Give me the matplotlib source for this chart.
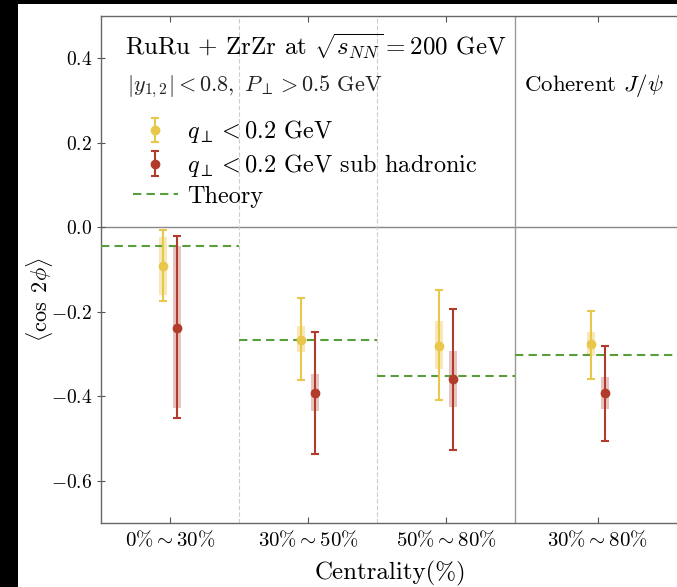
import matplotlib
matplotlib.use('Agg')
import matplotlib.pyplot as plt
from matplotlib.patches import Rectangle

plt.rcParams['font.family'] = 'serif'
plt.rcParams['font.serif'] = ['cmr10']
plt.rcParams['mathtext.fontset'] = 'cm'
plt.rcParams['axes.formatter.use_mathtext'] = True

# data
categories = [r'$0\%\sim30\%$', r'$30\%\sim50\%$', r'$50\%\sim80\%$', r'$30\%\sim80\%$']
cat_pos = [0, 1, 2, 3.1]

# q_perp < 0.2 GeV
y1 = [-0.091, -0.266, -0.280, -0.277]
y1_stat_hi = [-0.007, -0.168, -0.149, -0.198]
y1_stat_lo = [-0.175, -0.361, -0.409, -0.358]
y1_sys_hi = [-0.022, -0.234, -0.223, -0.248]
y1_sys_lo = [-0.160, -0.296, -0.335, -0.304]

# q_perp < 0.2 GeV sub hadronic
y2 = [-0.238, -0.393, -0.360, -0.393]
y2_stat_hi = [-0.020, -0.248, -0.193, -0.280]
y2_stat_lo = [-0.452, -0.536, -0.527, -0.505]
y2_sys_hi = [-0.044, -0.347, -0.294, -0.355]
y2_sys_lo = [-0.427, -0.436, -0.426, -0.431]

# theory, one level per centrality bin
theory = [-0.044, -0.266, -0.351, -0.303]
theory_lo = [-0.5, 0.5, 1.5, 2.5]
theory_hi = [0.5, 1.5, 2.5, 3.7]

yellow = '#e9c74b'
red = '#b23c2b'
green = '#5a9e3a'

fig = plt.figure(figsize=(6.77, 5.87), dpi=100)
fig.patch.set_facecolor('black')
fig.add_artist(Rectangle((18 / 677, 0), 1, 1 - 4 / 587, transform=fig.transFigure,
                         facecolor='white', edgecolor='none', zorder=-1))

ax = fig.add_axes([101 / 677, 64 / 587, 579.6 / 677, 507 / 587])

x1 = [p - 0.05 for p in cat_pos]
x2 = [p + 0.05 for p in cat_pos]

# systematic boxes
ax.bar(x1, [h - l for h, l in zip(y1_sys_hi, y1_sys_lo)], bottom=y1_sys_lo, width=0.06,
       color=yellow, alpha=0.4, edgecolor='none', zorder=2)
ax.bar(x2, [h - l for h, l in zip(y2_sys_hi, y2_sys_lo)], bottom=y2_sys_lo, width=0.06,
       color=red, alpha=0.3, edgecolor='none', zorder=2)

# statistical error bars
err1 = [[v - l for v, l in zip(y1, y1_stat_lo)], [h - v for v, h in zip(y1, y1_stat_hi)]]
err2 = [[v - l for v, l in zip(y2, y2_stat_lo)], [h - v for v, h in zip(y2, y2_stat_hi)]]
ax.errorbar(x1, y1, yerr=err1, fmt='o', color=yellow, ms=6, lw=1.5, capsize=3,
            capthick=1.5, label=r'$q_{\perp}<0.2$ GeV', zorder=4)
ax.errorbar(x2, y2, yerr=err2, fmt='o', color=red, ms=6, lw=1.5, capsize=3,
            capthick=1.5, label=r'$q_{\perp}<0.2$ GeV sub hadronic', zorder=4)

for i in range(len(theory)):
    ax.plot([theory_lo[i], theory_hi[i]], [theory[i], theory[i]], color=green, lw=1.5,
            linestyle=(0, (4, 2.5)), zorder=3, label='Theory' if i == 0 else None)

ax.axhline(0, color='#888888', lw=1, zorder=1)
ax.axvline(0.5, color='#cccccc', lw=0.8, linestyle=(0, (4, 2)), zorder=1)
ax.axvline(1.5, color='#cccccc', lw=0.8, linestyle=(0, (4, 2)), zorder=1)
ax.axvline(2.5, color='#999999', lw=1, zorder=1)

ax.set_xlim(-0.5, 3.7)
ax.set_ylim(-0.7, 0.5)
ax.set_xticks(cat_pos)
ax.set_xticklabels(categories, fontsize=15)
ax.set_yticks([-0.6, -0.4, -0.2, 0.0, 0.2, 0.4])
ax.tick_params(axis='y', labelsize=14, direction='inout', length=6, right=True, color='#555555')
ax.tick_params(axis='x', direction='in', length=4, top=True, pad=5, color='#555555')
for s in ax.spines.values():
    s.set_color('#666666')
    s.set_linewidth(1)

ax.set_xlabel('Centrality(%)', fontsize=18)
ax.set_ylabel(r'$\langle\cos\ 2\phi\rangle$', fontsize=16)
ax.yaxis.set_label_coords(-0.08, 0.44)
ax.xaxis.set_label_coords(0.5, -0.075)

ax.text(0.041, 0.922, r'RuRu + ZrZr at $\sqrt{s_{NN}}=200$ GeV', transform=ax.transAxes,
        fontsize=18, va='baseline')
ax.text(0.045, 0.852, r'$|y_{1,2}|<0.8,\ P_{\perp}>0.5$ GeV', transform=ax.transAxes,
        fontsize=16, va='baseline', color='#222222')
ax.text(0.730, 0.852, r'Coherent $J/\psi$', transform=ax.transAxes,
        fontsize=16.5, va='baseline')

handles, labels = ax.get_legend_handles_labels()
order = [1, 2, 0]
ax.legend([handles[i] for i in order], [labels[i] for i in order],
          loc='upper left', bbox_to_anchor=(0.017, 0.841), frameon=False, fontsize=17.5,
          labelspacing=0.27, handletextpad=0.4, handlelength=1.85)

plt.savefig('out.png', dpi=100)
